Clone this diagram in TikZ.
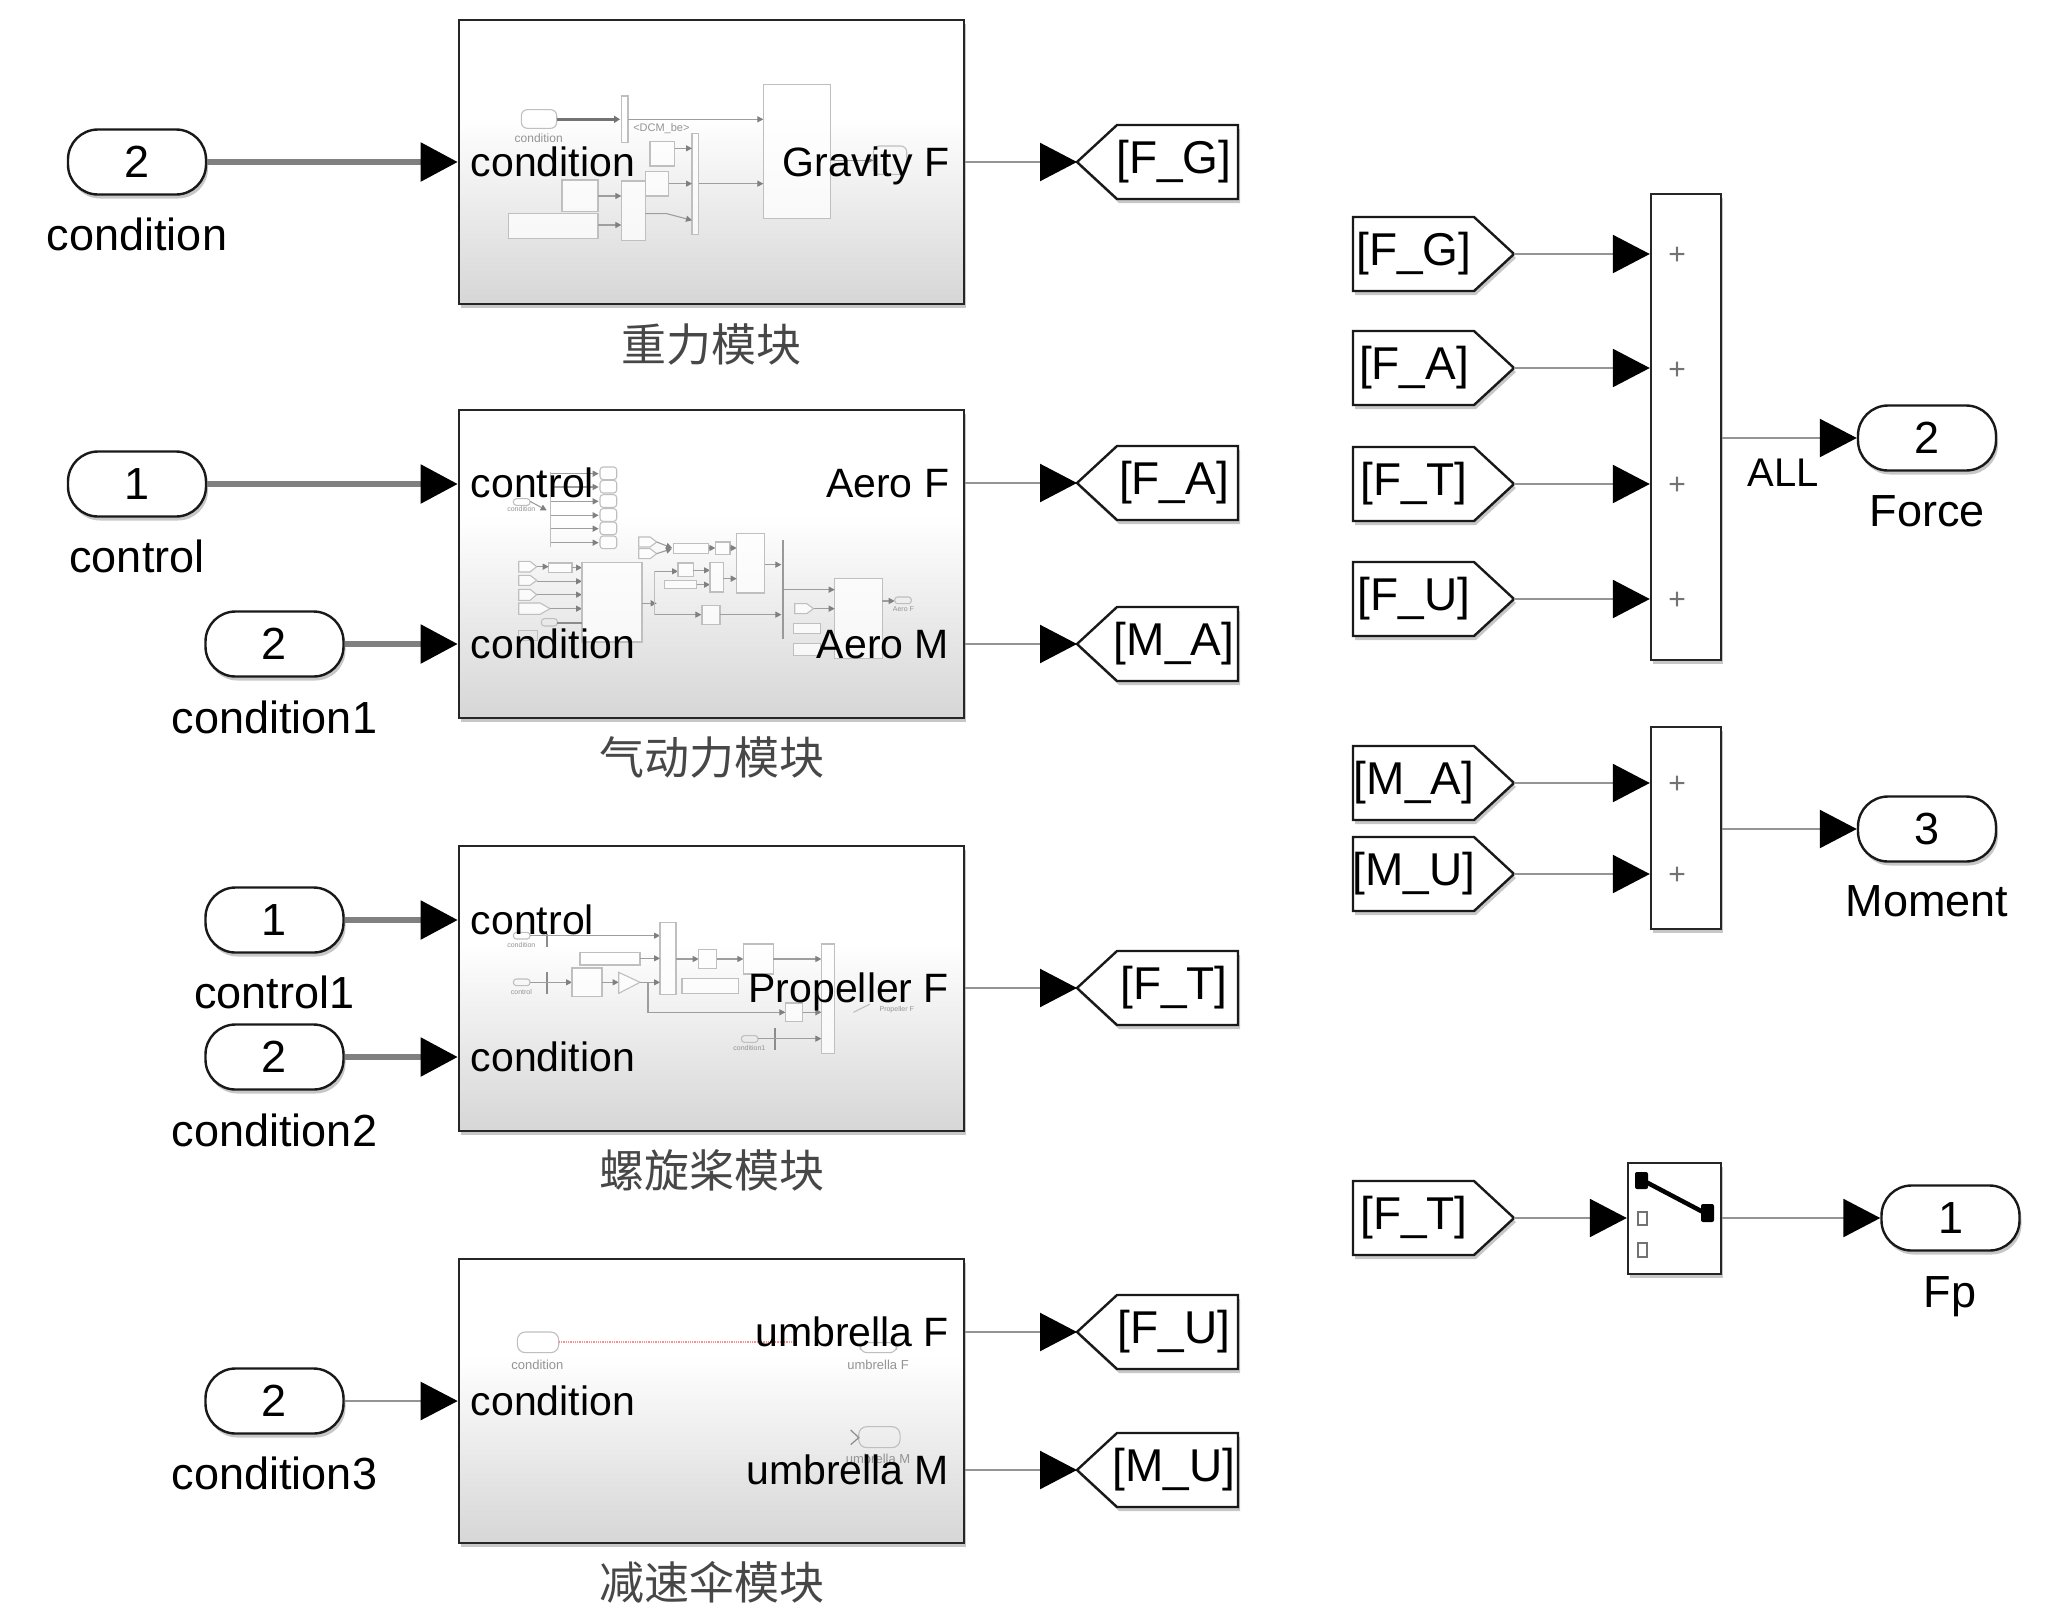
\documentclass[tikz,border=0pt]{standalone}
\usepackage{fontspec}
\setmainfont{Liberation Sans}
\newfontfamily\cjkfam{Noto Sans CJK SC}
\usetikzlibrary{arrows.meta,shadows,calc}
\newcommand{\fsz}[1]{\fontsize{#1}{#1}\selectfont}
\pgfdeclareverticalshading{blockfade}{100bp}{rgb(0bp)=(.84,.84,.84); rgb(25bp)=(.84,.84,.84); rgb(58bp)=(1,1,1); rgb(100bp)=(1,1,1)}
\tikzset{
  softshadow/.style={drop shadow={shadow xshift=2pt,shadow yshift=-4pt,fill=black,opacity=.22}},
  subsys/.style={draw=black!85,line width=2.6pt,shading=blockfade,rectangle,minimum width=505pt,inner sep=0pt,softshadow},
  plainbar/.style={draw=black!85,line width=2.4pt,fill=white,rectangle,inner sep=0pt,softshadow},
  pill/.style={draw=black!90,line width=2.4pt,fill=white,rectangle,rounded corners=30pt,minimum width=138pt,minimum height=65pt,inner sep=0pt,font=\fsz{45},softshadow},
  caption/.style={font=\fsz{45},inner sep=0pt,text height=32pt,text depth=0pt},
  blkleft/.style={font=\fsz{41},inner sep=0pt,anchor=west,text height=29.5pt,text depth=0pt},
  blkright/.style={font=\fsz{41},inner sep=0pt,anchor=east,text height=29.5pt,text depth=0pt},
  cnlabel/.style={font=\cjkfam\fsz{45},inner sep=0pt,text=black!72},
  tagshape/.style={draw=black!90,line width=2.4pt,fill=white,line join=miter,softshadow},
  tagtext/.style={font=\fsz{46},inner sep=0pt},
  wire/.style={draw=black!42,line width=2.4pt,-{Triangle[length=37pt,width=38pt,black]}},
  bus/.style={draw=black!50,line width=5.5pt,-{Triangle[length=37pt,width=38pt,black]}},
  plus/.style={font=\fsz{30},inner sep=0pt,text=black!55},
  mini/.style={draw=black!25,line width=1.1pt},
  minibox/.style={mini,fill=white,fill opacity=.75},
  miniwire/.style={draw=black!38,line width=1.1pt,-{Triangle[length=6pt,width=6pt,black!50]}},
  minitext/.style={font=\fsz{11},inner sep=0pt,text=black!42},
}
\newcommand{\tagleft}[4]{% tip name, text node, centre y, text
  \begin{scope}[shift={(0,#3)}]
    \draw[tagshape] (1077,0) -- (1117,-37) -- (1238,-37) -- (1238,37) -- (1117,37) -- cycle;
    \coordinate (#1) at (1077,0);
    \node[tagtext] (#2) at (1174,0) {#4};
  \end{scope}}
\newcommand{\tagright}[4]{%
  \begin{scope}[shift={(0,#3)}]
    \draw[tagshape] (1353,-37) -- (1474,-37) -- (1514,0) -- (1474,37) -- (1353,37) -- cycle;
    \coordinate (#1) at (1514,0);
    \node[tagtext] (#2) at (1414,0) {#4};
  \end{scope}}
\begin{document}
\begin{tikzpicture}[x=1pt,y=-1pt]
\useasboundingbox (0,0) rectangle (2072,1618);
\fill[white] (0,0) rectangle (2072,1618);

% subsystem blocks
\node[subsys,minimum height=284pt] (blkG) at (711.5,162) {};
\node[subsys,minimum height=308pt] (blkA) at (711.5,564) {};
\node[subsys,minimum height=285pt] (blkT) at (711.5,988.5) {};
\node[subsys,minimum height=284pt] (blkU) at (711.5,1401) {};

% thumbnail: gravity
\begin{scope}[shift={(0,1)},x=.6667pt,y=-.3333pt]
  \draw[mini,rounded corners=6pt] (782,326) rectangle (835,382);
  \node[minitext,font=\fsz{12}] (mg1) at (808,412) {condition};
  \draw[draw=black!55,line width=3pt,-{Triangle[length=6pt,width=7pt,black!55]}] (835,355) -- (930,355);
  \draw[minibox] (932,285) rectangle (942,425);
  \draw[miniwire] (942,355) -- (1145,355);
  \node[minitext] (mg2) at (992,383) {<DCM\_be>};
  \draw[minibox] (1145,250) rectangle (1245,652);
  \draw[minibox] (1038,398) rectangle (1048,700);
  \draw[minibox] (975,422) rectangle (1012,495);
  \draw[miniwire] (1012,442) -- (1038,442);
  \draw[minibox] (932,540) rectangle (968,718);
  \draw[minibox] (968,512) rectangle (1003,585);
  \draw[miniwire] (1003,548) -- (1038,548);
  \draw[miniwire] (1048,548) -- (1145,548);
  \draw[miniwire] (968,638) -- (1000,638) -- (1038,658);
  \draw[minibox] (843,537) rectangle (897,632);
  \draw[miniwire] (897,585) -- (932,585);
  \draw[minibox] (763,637) rectangle (897,712);
  \draw[miniwire] (897,672) -- (932,672);
  \draw[mini,rounded corners=6pt] (1310,435) rectangle (1360,520);
  \draw[miniwire] (1245,478) -- (1310,478);
\end{scope}

% thumbnail: aero
\begin{scope}[shift={(0,402)},x=.6667pt,y=-.3333pt]
  \draw[mini,rounded corners=3pt] (770,290) rectangle (795,310);
  \node[minitext,font=\fsz{7}] (ma1) at (782,322) {condition};
  \draw[miniwire] (795,298) -- (820,325);
  \draw[mini] (826,210) -- (826,435);
  \foreach \yy in {215,255,298,340,380,422}{
    \draw[miniwire] (826,\yy) -- (898,\yy);
    \draw[minibox,rounded corners=3pt] (900,{\yy-20}) rectangle (925,{\yy+18});
  }
  \draw[minibox] (958,405) -- (975,405) -- (985,420) -- (975,435) -- (958,435) -- cycle;
  \draw[minibox] (958,440) -- (975,440) -- (985,455) -- (975,470) -- (958,470) -- cycle;
  \draw[miniwire] (985,420) -- (1008,438);
  \draw[miniwire] (985,455) -- (1008,440);
  \draw[minibox] (1010,425) rectangle (1063,455);
  \draw[miniwire] (1063,438) -- (1073,438);
  \draw[minibox] (1073,420) rectangle (1095,458);
  \draw[miniwire] (1095,438) -- (1105,438);
  \draw[minibox] (1105,395) rectangle (1147,573);
  \draw[miniwire] (1147,488) -- (1172,488);
  \draw[draw=black!40,line width=1.6pt] (1174,415) -- (1174,712);
  \draw[minibox] (778,478) -- (795,478) -- (805,494) -- (795,510) -- (778,510) -- cycle;
  \draw[minibox] (778,520) -- (795,520) -- (805,535) -- (795,550) -- (778,550) -- cycle;
  \draw[minibox] (778,562) -- (795,562) -- (805,578) -- (795,595) -- (778,595) -- cycle;
  \draw[minibox] (778,603) -- (810,603) -- (825,620) -- (810,637) -- (778,637) -- cycle;
  \draw[minibox] (823,483) rectangle (858,512);
  \draw[miniwire] (805,494) -- (823,494);
  \draw[miniwire] (858,497) -- (873,497);
  \draw[miniwire] (805,538) -- (873,538);
  \draw[miniwire] (805,578) -- (873,578);
  \draw[miniwire] (825,620) -- (873,620);
  \draw[minibox] (873,482) rectangle (963,720);
  \draw[mini,rounded corners=3pt] (812,650) rectangle (836,672);
  \draw[draw=black!45,line width=2pt] (836,662) -- (873,662);
  \draw[mini] (778,685) rectangle (806,715);
  \draw[miniwire] (963,604) -- (985,604);
  \draw[mini] (982,508) -- (982,638);
  \draw[miniwire] (982,508) -- (1017,508);
  \draw[miniwire] (982,638) -- (1052,638);
  \draw[minibox] (1017,483) rectangle (1040,523);
  \draw[minibox] (997,535) rectangle (1045,560);
  \draw[miniwire] (1040,505) -- (1065,505);
  \draw[miniwire] (1045,548) -- (1065,548);
  \draw[minibox] (1065,482) rectangle (1085,570);
  \draw[miniwire] (1085,530) -- (1105,530);
  \draw[minibox] (1053,610) rectangle (1080,668);
  \draw[miniwire] (1080,638) -- (1172,638);
  \draw[minibox] (1252,530) rectangle (1323,770);
  \draw[miniwire] (1176,563) -- (1252,563);
  \draw[miniwire] (1220,620) -- (1252,620);
  \draw[minibox] (1192,605) -- (1210,605) -- (1220,620) -- (1210,635) -- (1192,635) -- cycle;
  \draw[minibox] (1190,665) rectangle (1230,695);
  \draw[minibox] (1190,725) rectangle (1230,760);
  \draw[miniwire] (1323,597) -- (1342,597);
  \draw[mini,rounded corners=3pt] (1342,585) rectangle (1367,605);
  \node[minitext,font=\fsz{7}] (ma2) at (1355,622) {Aero F};
\end{scope}

% thumbnail: propeller
\begin{scope}[shift={(0,804)},x=.6667pt,y=-.3333pt]
  \draw[mini,rounded corners=3pt] (770,385) rectangle (795,405);
  \node[minitext,font=\fsz{7}] (mt1) at (782,422) {condition};
  \draw[draw=black!45,line width=1.6pt] (820,390) -- (820,430);
  \draw[miniwire] (795,395) -- (990,395);
  \draw[minibox] (990,355) rectangle (1014,572);
  \draw[minibox] (870,445) rectangle (960,483);
  \draw[miniwire] (960,463) -- (990,463);
  \draw[mini,rounded corners=3pt] (770,525) rectangle (795,545);
  \node[minitext,font=\fsz{7}] (mt2) at (782,564) {control};
  \draw[draw=black!45,line width=1.6pt] (820,505) -- (820,570);
  \draw[miniwire] (795,535) -- (858,535);
  \draw[minibox] (858,492) rectangle (903,578);
  \draw[miniwire] (903,535) -- (928,535);
  \draw[minibox] (928,505) -- (960,535) -- (928,568) -- cycle;
  \draw[miniwire] (960,535) -- (990,535);
  \draw[miniwire] (1014,465) -- (1048,465);
  \draw[minibox] (1048,437) rectangle (1075,493);
  \draw[miniwire] (1075,465) -- (1115,465);
  \draw[minibox] (1115,420) rectangle (1160,510);
  \draw[miniwire] (1160,465) -- (1232,465);
  \draw[minibox] (1023,523) rectangle (1108,568);
  \draw[miniwire] (972,535) -- (972,625) -- (1178,625);
  \draw[minibox] (1178,597) rectangle (1204,652);
  \draw[miniwire] (1204,625) -- (1232,625);
  \draw[minibox] (1232,420) rectangle (1252,748);
  \draw[mini,rounded corners=3pt] (1112,695) rectangle (1137,715);
  \node[minitext,font=\fsz{7}] (mt3) at (1124,732) {condition1};
  \draw[draw=black!45,line width=1.6pt] (1162,672) -- (1162,737);
  \draw[miniwire] (1137,704) -- (1232,704);
  \draw[mini] (1280,625) -- (1305,600);
  \node[minitext,font=\fsz{7}] (mt4) at (1345,617) {Propeller F};
\end{scope}

% thumbnail: umbrella
\begin{scope}[shift={(0,1206)},x=.6667pt,y=-.3333pt]
  \draw[mini,rounded corners=8pt] (776,378) rectangle (838,440);
  \node[minitext,font=\fsz{13}] (mu1) at (806,476) {condition};
  \draw[draw=red!45,line width=1.3pt,densely dotted] (838,408) -- (1192,408);
  \draw[mini,rounded corners=7pt] (1290,410) rectangle (1345,440);
  \node[minitext,font=\fsz{13}] (mu2) at (1317,476) {umbrella F};
  \draw[mini,rounded corners=8pt] (1288,662) rectangle (1350,725);
  \draw[draw=black!45,line width=1.2pt] (1276,672) -- (1288,695) -- (1276,716);
  \node[minitext,font=\fsz{13}] (mu3) at (1317,760) {umbrella M};
\end{scope}

% block port labels
\node[blkleft] (lgc) at (blkG.west |- 0,162) [xshift=13pt] {condition};
\node[blkright] (lgf) at (blkG.east |- 0,162) [xshift=-16pt] {Gravity F};
\node[blkleft] (lac) at (blkA.west |- 0,483) [xshift=13pt] {control};
\node[blkleft] (lad) at (blkA.west |- 0,644) [xshift=13pt] {condition};
\node[blkright] (laf) at (blkA.east |- 0,483) [xshift=-16pt] {Aero F};
\node[blkright] (lam) at (blkA.east |- 0,644) [xshift=-16pt] {Aero M};
\node[blkleft] (ltc) at (blkT.west |- 0,920) [xshift=13pt] {control};
\node[blkleft] (ltd) at (blkT.west |- 0,1057) [xshift=13pt] {condition};
\node[blkright] (ltf) at (blkT.east |- 0,988) [xshift=-16pt] {Propeller F};
\node[blkleft] (luc) at (blkU.west |- 0,1401) [xshift=13pt] {condition};
\node[blkright] (luf) at (blkU.east |- 0,1332) [xshift=-16pt] {umbrella F};
\node[blkright] (lum) at (blkU.east |- 0,1470) [xshift=-16pt] {umbrella M};

% block captions
\node[cnlabel] (cnG) at (711.5,344) {重力模块};
\node[cnlabel] (cnA) at (711.5,757) {气动力模块};
\node[cnlabel] (cnT) at (711.5,1170) {螺旋桨模块};
\node[cnlabel] (cnU) at (711.5,1582) {减速伞模块};

% input ports
\node[pill] (inG) at (137,162) {2};
\node[caption] (capG) at (137,234) {condition};
\node[pill] (inAc) at (137,484) {1};
\node[caption] (capAc) at (137,556) {control};
\node[pill] (inAd) at (274.5,644) {2};
\node[caption] (capAd) at (274.5,717) {condition1};
\node[pill] (inTc) at (274.5,920) {1};
\node[caption] (capTc) at (274.5,992) {control1};
\node[pill] (inTd) at (274.5,1057) {2};
\node[caption] (capTd) at (274.5,1130) {condition2};
\node[pill] (inU) at (274.5,1401) {2};
\node[caption] (capU) at (274.5,1473) {condition3};

% input connectors
\draw[bus] (inG.east) -- (inG.east -| blkG.west);
\draw[bus] (inAc.east) -- (inAc.east -| blkA.west);
\draw[bus] (inAd.east) -- (inAd.east -| blkA.west);
\draw[bus] (inTc.east) -- (inTc.east -| blkT.west);
\draw[bus] (inTd.east) -- (inTd.east -| blkT.west);
\draw[wire] (inU.east) -- (inU.east -| blkU.west);

% goto tags
\tagleft{gG}{tgG}{162}{[F\_G]}
\tagleft{gA}{tgA}{483}{[F\_A]}
\tagleft{gM}{tgM}{644}{[M\_A]}
\tagleft{gT}{tgT}{988}{[F\_T]}
\tagleft{gU}{tgU}{1332}{[F\_U]}
\tagleft{gN}{tgN}{1470}{[M\_U]}
\draw[wire] (blkG.east |- gG) -- (gG);
\draw[wire] (blkA.east |- gA) -- (gA);
\draw[wire] (blkA.east |- gM) -- (gM);
\draw[wire] (blkT.east |- gT) -- (gT);
\draw[wire] (blkU.east |- gU) -- (gU);
\draw[wire] (blkU.east |- gN) -- (gN);

% force sum
\node[plainbar,minimum width=70pt,minimum height=466pt] (sumF) at (1686,427) {};
\tagright{fG}{tfG}{254}{[F\_G]}
\tagright{fA}{tfA}{368}{[F\_A]}
\tagright{fT}{tfT}{484}{[F\_T]}
\tagright{fU}{tfU}{599}{[F\_U]}
\draw[wire] (fG) -- (fG -| sumF.west);
\draw[wire] (fA) -- (fA -| sumF.west);
\draw[wire] (fT) -- (fT -| sumF.west);
\draw[wire] (fU) -- (fU -| sumF.west);
\node[plus] (pl1) at (1677,256) {+};
\node[plus] (pl2) at (1677,371) {+};
\node[plus] (pl3) at (1677,486) {+};
\node[plus] (pl4) at (1677,601) {+};
\node[pill] (outF) at (1927,438) {2};
\node[caption] (capF) at (1927,510) {Force};
\draw[wire] (sumF.east |- outF.west) -- (outF.west);
\node[inner sep=0pt,font=\fsz{40},text height=29pt,text depth=0pt] (lblAll) at (1783,472) {ALL};

% moment sum
\node[plainbar,minimum width=70pt,minimum height=202pt] (sumM) at (1686,828) {};
\tagright{fM}{tfM}{783}{[M\_A]}
\tagright{fN}{tfN}{874}{[M\_U]}
\draw[wire] (fM) -- (fM -| sumM.west);
\draw[wire] (fN) -- (fN -| sumM.west);
\node[plus] (pl5) at (1677,785) {+};
\node[plus] (pl6) at (1677,876) {+};
\node[pill] (outM) at (1927,829) {3};
\node[caption] (capM) at (1927,900) {Moment};
\draw[wire] (sumM.east |- outM.west) -- (outM.west);

% switch
\tagright{fS}{tfS}{1218}{[F\_T]}
\node[plainbar,minimum width=93pt,minimum height=111pt] (swt) at (1674.5,1218.5) {};
\draw[wire] (fS) -- (fS -| swt.west);
\fill[black,rounded corners=2pt] (1635,1172) rectangle (1648,1189);
\fill[black,rounded corners=2pt] (1701,1204) rectangle (1714,1222);
\draw[black,line width=4.5pt] (1646,1182) -- (1703,1212);
\draw[black!55,line width=1.2pt] (1638,1212) rectangle (1647,1225);
\draw[black!55,line width=1.2pt] (1638,1243) rectangle (1647,1257);
\node[pill] (outS) at (1950.5,1218) {1};
\node[caption] (capS) at (1950,1291) {Fp};
\draw[wire] (swt.east |- outS.west) -- (outS.west);
\end{tikzpicture}
\end{document}
